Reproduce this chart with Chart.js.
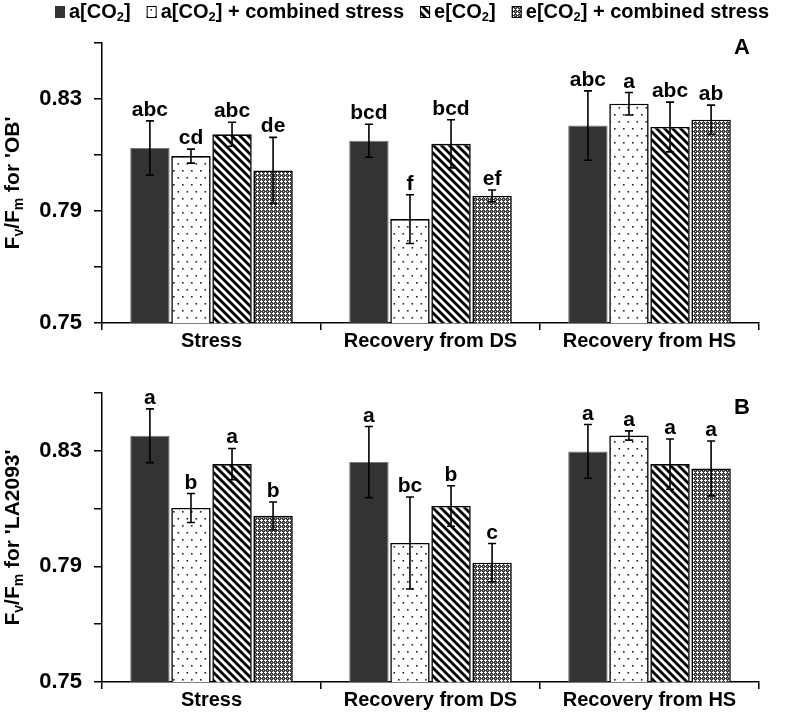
<!DOCTYPE html>
<html lang="en">
<head>
<meta charset="UTF-8">
<title>Fv/Fm bars</title>
<script src="https://cdn.jsdelivr.net/npm/chart.js@4.4.1/dist/chart.umd.min.js"></script>
<style>
  body { margin: 0; background: #fff; }
  .panel { position: absolute; left: 0; }
</style>
</head>
<body>
<canvas id="chartA" class="panel" width="787" height="355" style="top:0px"></canvas>
<canvas id="chartB" class="panel" width="787" height="363" style="top:355px"></canvas>
<script>
// categories
const categories = ['Stress', 'Recovery from DS', 'Recovery from HS'];

// panel A - 'OB'
const ob_aCO2      = [0.8125, 0.8151, 0.8205];
const ob_aCO2_err  = [0.0097, 0.0059, 0.0124];
const ob_aCO2cs    = [0.8096, 0.7871, 0.8283];
const ob_aCO2cs_err= [0.0025, 0.0087, 0.0040];
const ob_eCO2      = [0.8174, 0.8140, 0.8200];
const ob_eCO2_err  = [0.0043, 0.0086, 0.0089];
const ob_eCO2cs    = [0.8045, 0.7954, 0.8226];
const ob_eCO2cs_err= [0.0118, 0.0021, 0.0052];
const ob_letters   = [['abc','bcd','abc'], ['cd','f','a'], ['abc','bcd','abc'], ['de','ef','ab']];

// panel B - 'LA2093'
const la_aCO2      = [0.8352, 0.8261, 0.8298];
const la_aCO2_err  = [0.0093, 0.0123, 0.0093];
const la_aCO2cs    = [0.8102, 0.7981, 0.8353];
const la_aCO2cs_err= [0.0050, 0.0159, 0.0016];
const la_eCO2      = [0.8254, 0.8109, 0.8254];
const la_eCO2_err  = [0.0054, 0.0070, 0.0087];
const la_eCO2cs    = [0.8075, 0.7913, 0.8239];
const la_eCO2cs_err= [0.0048, 0.0066, 0.0095];
const la_letters   = [['a','a','a'], ['b','bc','a'], ['a','b','a'], ['b','c','a']];

// y axis
const yMin = 0.75, yMax = 0.85, yStep = 0.02;
const yLabelled = [0.75, 0.79, 0.83];

const FONT = '"Liberation Sans", Arial, sans-serif';

// ---- fill patterns ----
function tile(w, h, draw) {
  const c = document.createElement('canvas');
  c.width = w; c.height = h;
  const g = c.getContext('2d');
  draw(g);
  return document.createElement('canvas').getContext('2d').createPattern(c, 'repeat');
}
const solidFill = '#333333';
const dotFill = tile(9, 14, g => {
  g.fillStyle = '#fff'; g.fillRect(0, 0, 9, 14);
  g.fillStyle = '#222';
  g.fillRect(2, 2, 1.6, 1.6);
  g.fillRect(6.5, 9, 1.6, 1.6);
});
const stripeFill = tile(8, 8, g => {
  g.fillStyle = '#fff'; g.fillRect(0, 0, 8, 8);
  g.strokeStyle = '#000'; g.lineWidth = 2.8;
  for (const k of [-8, 0, 8]) {
    g.beginPath(); g.moveTo(k - 2, -2); g.lineTo(k + 10, 10); g.stroke();
  }
});
const checkFill = tile(4, 4, g => {
  g.fillStyle = '#3c3c3c'; g.fillRect(0, 0, 4, 4);
  g.fillStyle = '#fff';
  g.fillRect(1, 0, 1, 3); g.fillRect(0, 1, 3, 1);
  g.fillStyle = '#b0b0b0'; g.fillRect(3, 3, 1, 1);
});
const fills = [solidFill, dotFill, stripeFill, checkFill];
const borders = ['#777', '#000', '#000', '#000'];

const legendItems = [
  [{t:'a[CO'}, {t:'2', sub:true}, {t:']'}],
  [{t:'a[CO'}, {t:'2', sub:true}, {t:'] + combined stress'}],
  [{t:'e[CO'}, {t:'2', sub:true}, {t:']'}],
  [{t:'e[CO'}, {t:'2', sub:true}, {t:'] + combined stress'}]
];

// text with subscripts
function richWidth(ctx, parts, size, subSize) {
  let w = 0;
  for (const p of parts) {
    ctx.font = 'bold ' + (p.sub ? subSize : size) + 'px ' + FONT;
    w += ctx.measureText(p.t).width;
  }
  return w;
}
function drawRich(ctx, parts, x, y, size, subSize, subDy) {
  for (const p of parts) {
    ctx.font = 'bold ' + (p.sub ? subSize : size) + 'px ' + FONT;
    ctx.fillText(p.t, x, p.sub ? y + subDy : y);
    x += ctx.measureText(p.t).width;
  }
  return x;
}

const extras = {
  id: 'extras',
  afterDatasetsDraw(chart, args, opts) {
    const ctx = chart.ctx;
    const y = chart.scales.y;
    ctx.save();
    chart.data.datasets.forEach((ds, i) => {
      const meta = chart.getDatasetMeta(i);
      meta.data.forEach((bar, j) => {
        const v = ds.data[j], e = opts.errors[i][j];
        const top = y.getPixelForValue(v + e), bot = y.getPixelForValue(v - e);
        ctx.strokeStyle = '#000'; ctx.lineWidth = 1.6;
        ctx.beginPath();
        ctx.moveTo(bar.x, top); ctx.lineTo(bar.x, bot);
        ctx.moveTo(bar.x - 4, top); ctx.lineTo(bar.x + 4, top);
        ctx.moveTo(bar.x - 4, bot); ctx.lineTo(bar.x + 4, bot);
        ctx.stroke();
        ctx.fillStyle = '#000';
        ctx.font = 'bold 21px ' + FONT;
        ctx.textAlign = 'center'; ctx.textBaseline = 'alphabetic';
        ctx.fillText(opts.letters[i][j], bar.x, top - 5);
      });
    });
    ctx.restore();
  },
  afterDraw(chart, args, opts) {
    const ctx = chart.ctx;
    const area = chart.chartArea;
    const xs = chart.scales.x;
    ctx.save();
    ctx.fillStyle = '#000';
    // category labels
    ctx.font = 'bold 20px ' + FONT;
    ctx.textAlign = 'center'; ctx.textBaseline = 'middle';
    categories.forEach((c, i) => {
      ctx.fillText(c, xs.getPixelForValue(i), area.bottom + 18);
    });
    // y title, rotated
    const tw = richWidth(ctx, opts.title, 21, 14);
    ctx.translate(13, (area.top + area.bottom) / 2);
    ctx.rotate(-Math.PI / 2);
    ctx.textAlign = 'left'; ctx.textBaseline = 'middle';
    drawRich(ctx, opts.title, -tw / 2, 0, 21, 14, 6);
    ctx.setTransform(1, 0, 0, 1, 0, 0);
    // panel letter
    ctx.font = 'bold 22px ' + FONT;
    ctx.textAlign = 'center'; ctx.textBaseline = 'middle';
    ctx.fillText(opts.panel, 742, opts.panelY);
    // legend
    if (opts.legend) {
      let x = 55;
      ctx.textAlign = 'left'; ctx.textBaseline = 'middle';
      legendItems.forEach((parts, i) => {
        ctx.fillStyle = fills[i];
        ctx.fillRect(x, 6, 10, 12);
        if (i > 0) { ctx.strokeStyle = '#000'; ctx.lineWidth = 1; ctx.strokeRect(x + 0.5, 6.5, 9, 11); }
        ctx.fillStyle = '#000';
        x = drawRich(ctx, parts, x + 14, 12, 20, 13, 5) + 16;
      });
    }
    ctx.restore();
  }
};

function makeChart(id, series, errors, letters, title, panel, panelY, padTop, xHeight, legend) {
  new Chart(document.getElementById(id), {
    type: 'bar',
    data: {
      labels: categories,
      datasets: series.map((s, i) => ({
        data: s,
        backgroundColor: fills[i],
        borderColor: borders[i],
        borderWidth: i === 0 ? 1 : 1.6,
        categoryPercentage: 0.75,
        barPercentage: 0.96
      }))
    },
    options: {
      responsive: false,
      animation: false,
      devicePixelRatio: 1,
      layout: { padding: { top: padTop, right: 28, left: 0, bottom: 0 } },
      plugins: {
        legend: { display: false },
        tooltip: { enabled: false },
        extras: { errors, letters, title, panel, panelY, legend }
      },
      scales: {
        x: {
          offset: true,
          grid: { offset: true, drawOnChartArea: false, tickLength: 7, color: '#000', lineWidth: 1.5 },
          border: { color: '#000', width: 1.5 },
          ticks: { callback: () => '' },
          afterFit: s => { s.height = xHeight; }
        },
        y: {
          min: yMin, max: yMax,
          grid: { drawOnChartArea: false, tickLength: 8, color: '#000', lineWidth: 1.5 },
          border: { color: '#000', width: 1.5 },
          ticks: {
            stepSize: yStep, autoSkip: false, padding: 12, color: '#000',
            font: { family: FONT, size: 22, weight: 'bold' },
            callback: v => {
              const hit = yLabelled.find(t => Math.abs(t - v) < 1e-6);
              return hit !== undefined ? hit.toFixed(2) : '';
            }
          },
          afterFit: s => { s.width = 102; }
        }
      }
    },
    plugins: [extras]
  });
}

makeChart('chartA',
  [ob_aCO2, ob_aCO2cs, ob_eCO2, ob_eCO2cs],
  [ob_aCO2_err, ob_aCO2cs_err, ob_eCO2_err, ob_eCO2cs_err],
  ob_letters,
  [{t:'F'}, {t:'v', sub:true}, {t:'/F'}, {t:'m', sub:true}, {t:" for 'OB'"}],
  'A', 48, 43, 32, true);

makeChart('chartB',
  [la_aCO2, la_aCO2cs, la_eCO2, la_eCO2cs],
  [la_aCO2_err, la_aCO2cs_err, la_eCO2_err, la_eCO2cs_err],
  la_letters,
  [{t:'F'}, {t:'v', sub:true}, {t:'/F'}, {t:'m', sub:true}, {t:" for 'LA2093'"}],
  'B', 53, 38, 36, false);
</script>
</body>
</html>
